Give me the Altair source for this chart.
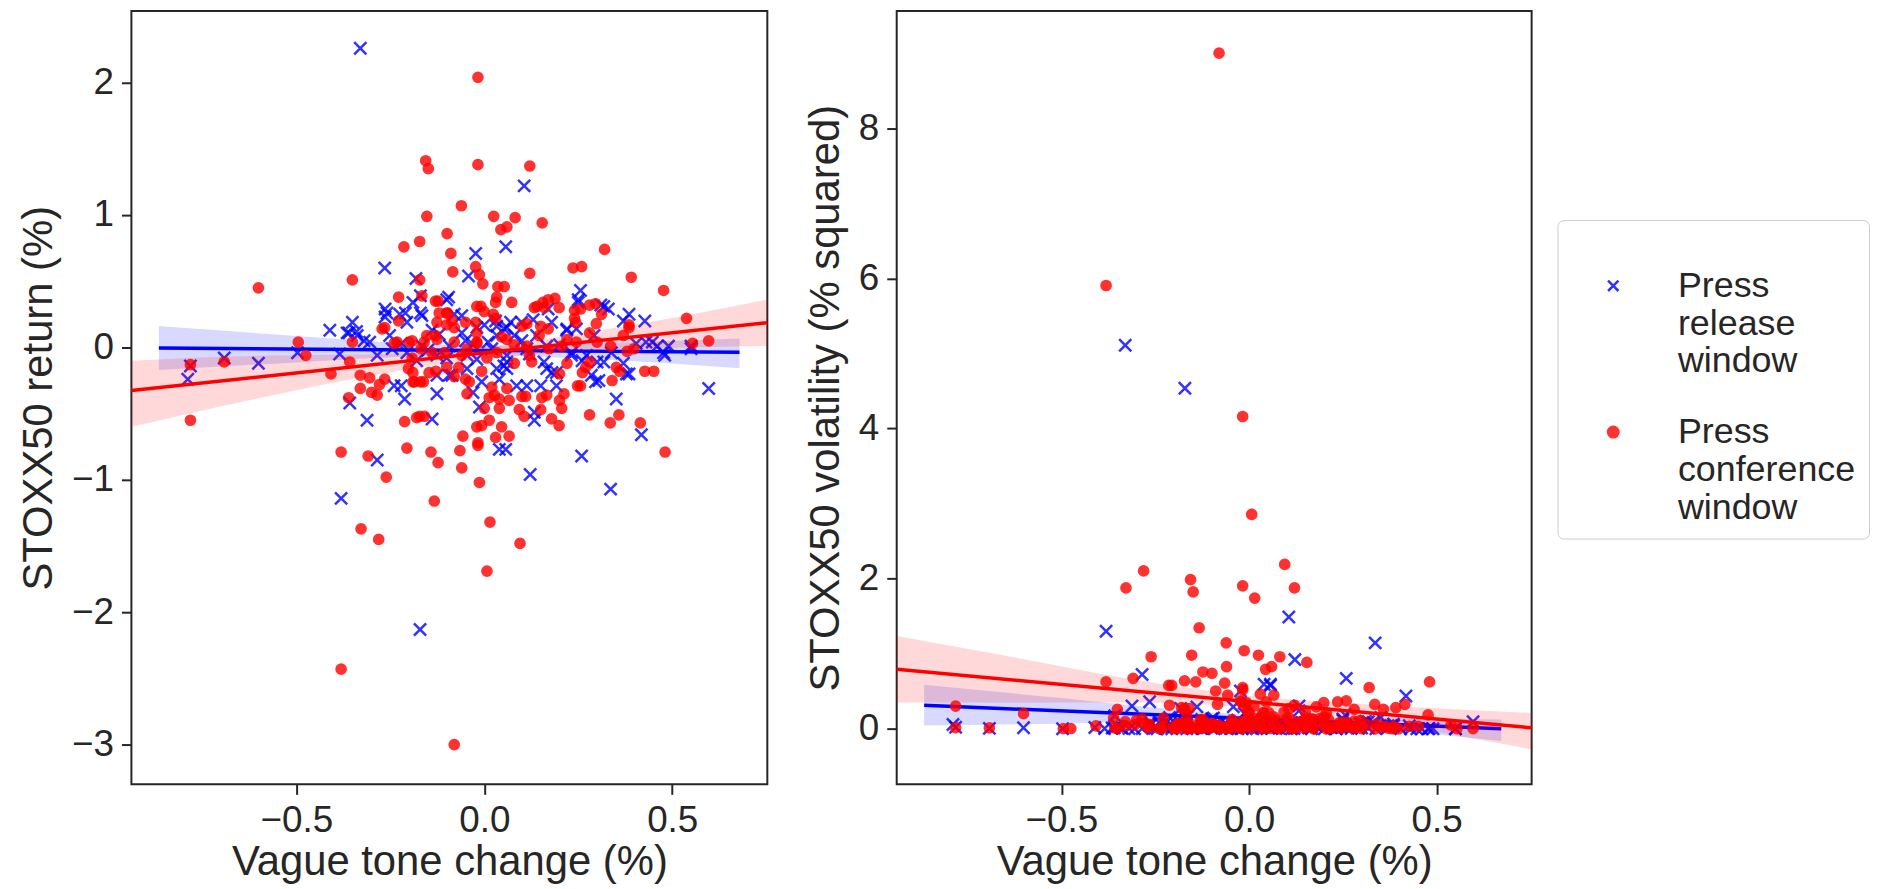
import altair as alt
import pandas as pd

SERIES = ["Press release window", "Press conference window"]
COLORS = ["#0000ff", "#ff0000"]
SHAPES = ["M-1,-1L1,1M1,-1L-1,1", "circle"]

X_TITLE = "Vague tone change (%)"
RET_TITLE = "STOXX50 return (%)"
VOL_TITLE = "STOXX50 volatility (% squared)"
X_DOMAIN = [-0.939, 0.753]
RET_DOMAIN = [-3.30, 2.54]
VOL_DOMAIN = [-0.74, 9.56]
X_TICKS = [-0.5, 0.0, 0.5]
RET_TICKS = [-3, -2, -1, 0, 1, 2]
VOL_TICKS = [0, 2, 4, 6, 8]

# Press release window
REL_X = [-0.33, 0.106, 0.057, -0.023, -0.265, -0.182, -0.042, 0.256, -0.095, -0.259,
         -0.351, -0.411, 0.318, 0.385, 0.427, 0.447, 0.48, 0.55, 0.597, 0.418,
         0.351, 0.385, 0.305, -0.789, -0.782, -0.692, -0.601, -0.497, -0.385, -0.312,
         -0.358, -0.221, -0.212, -0.126, -0.139, -0.013, 0.133, 0.133, 0.086, 0.113,
         0.159, 0.166, 0.192, 0.232, -0.086, -0.046, 0.033, 0.06, -0.285, 0.04,
         0.057, 0.259, 0.122, 0.336, -0.381, -0.171, -0.206, -0.166, -0.139, -0.06,
         -0.02, 0.033, 0.06, 0.08, 0.099, 0.139, 0.179, 0.219, 0.245, 0.292,
         0.338, 0.404, 0.477, 0.55, 0.272, 0.232, 0.166, 0.113, 0.06, 0.02,
         -0.02, -0.046, -0.093, -0.126, -0.166, -0.206, -0.245, -0.285, -0.305, -0.338,
         -0.365, -0.126, -0.007, 0.04, 0.06, 0.192, 0.285, 0.318, -0.252, -0.225,
         0.033, 0.15, 0.296, 0.378, -0.03, -0.24, 0.37, 0.30, 0.18, 0.052,
         -0.094, 0.25, -0.10, -0.36, -0.34, -0.32, -0.264, -0.264, -0.21, -0.17,
         -0.19, -0.17, -0.08, 0.053, 0.33, 0.37, 0.31, 0.25, 0.22, 0.43,
         0.46, 0.49, 0.0, 0.03, 0.07, 0.13, 0.17, -0.12, -0.05, 0.01,
         -0.22, -0.15, -0.10, -0.03, 0.10, 0.20, 0.26, -0.18, 0.12, -0.06]
REL_RET = [2.26, 1.22, 0.76, 0.71, 0.60, 0.52, 0.54, 0.43, 0.38, 0.26,
           0.19, 0.13, 0.31, 0.25, 0.20, 0.04, -0.06, -0.01, -0.31, -0.66,
           -0.39, -0.20, -0.25, -0.24, -0.14, -0.08, -0.12, -0.04, -0.05, -0.55,
           -0.42, -0.29, -0.39, -0.35, -0.54, -0.45, -0.49, -0.55, -0.29, -0.29,
           -0.11, -0.16, -0.29, -0.06, -0.21, -0.16, -0.16, -0.11, -0.85, -0.77,
           -0.77, -0.82, -0.96, -1.07, -1.14, -2.13, 0.19, 0.24, 0.13, 0.24,
           0.15, 0.16, 0.15, 0.09, 0.19, 0.09, 0.19, 0.13, 0.14, 0.09,
           -0.04, 0.03, -0.04, 0.01, -0.06, -0.04, 0.01, -0.01, -0.06, -0.01,
           -0.09, -0.06, 0.01, -0.06, 0.01, -0.04, -0.01, -0.06, 0.04, 0.09,
           0.11, -0.21, -0.26, -0.24, -0.16, -0.19, -0.21, -0.11, 0.09, 0.25,
           0.09, -0.29, -0.26, -0.20, -0.34, -0.29, -0.12, -0.11, -0.19, -0.14,
           -0.21, 0.36, 0.36, 0.11, 0.12, 0.05, 0.29, 0.23, 0.26, 0.26,
           0.34, 0.39, 0.25, 0.14, 0.29, 0.20, 0.32, 0.34, 0.14, 0.04,
           0.01, 0.01, 0.17, 0.20, 0.19, 0.21, 0.29, 0.10, 0.05, 0.04,
           0.03, -0.02, -0.08, 0.02, 0.05, 0.02, -0.10, -0.10, -0.05, 0.11]
REL_VOL = [5.11, 1.49, 0.578, 0.504, 0.36, 0.27, 0.292, 0.185, 0.144, 0.068,
           0.036, 0.017, 0.096, 0.063, 0.04, 0.002, 0.004, 0.0, 0.096, 0.436,
           0.152, 0.04, 0.063, 0.058, 0.02, 0.006, 0.014, 0.002, 0.003, 0.303,
           0.176, 0.084, 0.152, 0.123, 0.292, 0.203, 0.24, 0.303, 0.084, 0.084,
           0.012, 0.026, 0.084, 0.004, 0.044, 0.026, 0.026, 0.012, 0.723, 0.593,
           0.593, 0.672, 0.922, 1.145, 1.30, 4.537, 0.036, 0.058, 0.017, 0.058,
           0.023, 0.026, 0.023, 0.008, 0.036, 0.008, 0.036, 0.017, 0.02, 0.008,
           0.002, 0.001, 0.002, 0.0, 0.004, 0.002, 0.0, 0.0, 0.004, 0.0,
           0.008, 0.004, 0.0, 0.004, 0.0, 0.002, 0.0, 0.004, 0.002, 0.008,
           0.012, 0.044, 0.068, 0.058, 0.026, 0.036, 0.044, 0.012, 0.008, 0.063,
           0.008, 0.084, 0.068, 0.04, 0.116, 0.084, 0.014, 0.012, 0.036, 0.02,
           0.044, 0.13, 0.13, 0.012, 0.014, 0.003, 0.084, 0.053, 0.068, 0.068,
           0.116, 0.152, 0.063, 0.02, 0.084, 0.04, 0.102, 0.116, 0.02, 0.002,
           0.0, 0.0, 0.029, 0.04, 0.036, 0.044, 0.084, 0.01, 0.003, 0.002,
           0.001, 0.0, 0.006, 0.0, 0.003, 0.0, 0.01, 0.01, 0.003, 0.012]

# Press conference window
CONF_X = [-0.017, -0.156, -0.149, -0.017, 0.121, -0.061, -0.153, 0.025, 0.082, 0.154,
          0.044, 0.06, -0.099, -0.172, -0.214, -0.089, 0.32, -0.023, 0.236, 0.259,
          -0.084, 0.121, 0.391, -0.351, -0.172, -0.013, -0.004, -0.601, 0.053, 0.477,
          -0.166, -0.228, -0.123, 0.033, 0.073, 0.188, 0.156, 0.296, -0.009, 0.133,
          0.199, 0.256, 0.024, -0.099, 0.312, 0.538, -0.228, -0.023, 0.113, 0.243,
          0.385, -0.265, 0.298, 0.597, 0.554, -0.495, -0.351, -0.192, -0.475, -0.782,
          -0.692, -0.782, -0.408, -0.358, -0.305, -0.33, -0.279, -0.285, -0.361, -0.265,
          -0.202, -0.186, -0.162, -0.129, -0.068, -0.05, -0.046, -0.007, 0.013, 0.027,
          0.06, 0.066, 0.08, 0.126, 0.153, 0.166, 0.212, 0.248, 0.261, 0.281,
          0.351, 0.34, 0.358, 0.427, 0.451, 0.415, 0.179, 0.199, 0.206, 0.106,
          0.093, 0.046, 0.066, -0.007, 0.013, -0.057, -0.017, -0.212, -0.172, -0.159,
          0.256, 0.398, 0.336, 0.385, 0.245, 0.172, 0.146, 0.206, 0.113, 0.046,
          0.033, 0.007, -0.02, -0.046, -0.08, -0.106, -0.126, -0.139, -0.153, -0.168,
          -0.232, -0.192, -0.08, -0.126, -0.086, -0.381, -0.309, -0.206, -0.142, -0.065,
          -0.017, -0.123, -0.06, -0.261, -0.013, -0.133, 0.015, -0.328, -0.281, 0.095,
          0.007, -0.381, -0.08, 0.481, -0.33, -0.30, -0.19, -0.17, -0.18, -0.02,
          0.0, 0.03, 0.04, 0.10, 0.11, 0.15, 0.20, 0.20, 0.22, 0.28,
          0.335, 0.36, 0.27, 0.38, 0.02, 0.04, -0.08, -0.04, -0.10, -0.147,
          -0.19, -0.272, -0.13, -0.12, -0.10, -0.10, 0.036, 0.03, -0.02, 0.0,
          0.14, 0.17, 0.16, 0.28, 0.24, 0.24, 0.37, 0.28, 0.15, 0.17,
          0.10, 0.03, -0.05, -0.02, -0.02, -0.13, -0.16, -0.20, -0.24, 0.08,
          0.12, 0.06, -0.06, 0.22, 0.30]
CONF_RET = [2.04, 1.41, 1.35, 1.38, 1.37, 1.07, 0.99, 0.99, 0.98, 0.94,
            0.89, 0.91, 0.86, 0.80, 0.76, 0.71, 0.74, 0.61, 0.60, 0.61,
            0.57, 0.56, 0.53, 0.51, 0.51, 0.55, 0.48, 0.45, 0.46, 0.43,
            0.39, 0.38, 0.35, 0.38, 0.34, 0.37, 0.34, 0.33, 0.31, 0.30,
            0.30, 0.29, 0.25, 0.26, 0.25, 0.22, 0.20, 0.19, 0.18, 0.19,
            0.17, 0.15, 0.18, 0.05, 0.03, 0.04, 0.04, 0.05, -0.06, -0.13,
            -0.11, -0.55, -0.20, -0.11, -0.23, -0.31, -0.28, -0.36, -0.38, -0.24,
            -0.16, -0.26, -0.26, -0.18, -0.15, -0.24, -0.35, -0.18, -0.38, -0.36,
            -0.31, -0.40, -0.12, -0.11, -0.38, -0.36, -0.35, -0.29, -0.19, -0.11,
            -0.15, -0.25, -0.51, -0.18, -0.18, -0.57, -0.54, -0.59, -0.46, -0.52,
            -0.47, -0.60, -0.67, -0.59, -0.55, -0.67, -0.72, -0.56, -0.52, -0.52,
            -0.29, -0.01, 0.01, 0.15, 0.04, -0.01, 0.09, 0.01, 0.01, 0.08,
            -0.04, -0.08, 0.03, -0.01, 0.04, -0.04, 0.06, -0.04, 0.09, -0.01,
            0.04, -0.08, 0.15, 0.19, 0.20, -0.79, -0.82, -0.76, -0.79, -0.78,
            -0.74, -0.87, -0.91, -0.98, -1.02, -1.16, -1.32, -1.37, -1.45, -1.48,
            -1.69, -2.43, -3.00, -0.79, -0.21, -0.34, -0.26, -0.26, -0.53, -0.60,
            -0.46, -0.68, -0.46, -0.37, -0.37, -0.47, -0.40, -0.20, -0.12, -0.51,
            -0.57, -0.18, -0.15, -0.03, -0.30, -0.39, -0.22, -0.26, -0.15, -0.19,
            -0.19, 0.14, 0.35, 0.26, 0.26, 0.17, 0.46, 0.34, 0.31, 0.27,
            0.31, 0.36, 0.30, 0.32, 0.28, 0.22, 0.09, 0.11, 0.16, 0.14,
            0.16, 0.22, 0.19, 0.11, 0.04, 0.09, 0.04, 0.04, 0.03, 0.02,
            -0.06, 0.06, -0.06, 0.06, 0.04]
CONF_VOL = [4.16, 1.988, 1.823, 1.904, 1.877, 1.145, 0.98, 0.98, 0.96, 0.884,
            0.792, 0.828, 0.74, 0.64, 0.578, 0.504, 0.548, 0.372, 0.36, 0.372,
            0.325, 0.314, 0.281, 0.26, 0.26, 0.303, 0.23, 0.203, 0.212, 0.185,
            0.152, 0.144, 0.123, 0.144, 0.116, 0.137, 0.116, 0.109, 0.096, 0.09,
            0.09, 0.084, 0.063, 0.068, 0.063, 0.048, 0.04, 0.036, 0.032, 0.036,
            0.029, 0.023, 0.032, 0.003, 0.001, 0.002, 0.002, 0.003, 0.004, 0.017,
            0.012, 0.303, 0.04, 0.012, 0.053, 0.096, 0.078, 0.13, 0.144, 0.058,
            0.026, 0.068, 0.068, 0.032, 0.023, 0.058, 0.123, 0.032, 0.144, 0.13,
            0.096, 0.16, 0.014, 0.012, 0.144, 0.13, 0.123, 0.084, 0.036, 0.012,
            0.023, 0.063, 0.26, 0.032, 0.032, 0.325, 0.292, 0.348, 0.212, 0.27,
            0.221, 0.36, 0.449, 0.348, 0.303, 0.449, 0.518, 0.314, 0.27, 0.27,
            0.084, 0.0, 0.0, 0.023, 0.002, 0.0, 0.008, 0.0, 0.0, 0.006,
            0.002, 0.006, 0.001, 0.0, 0.002, 0.002, 0.004, 0.002, 0.008, 0.0,
            0.002, 0.006, 0.023, 0.036, 0.04, 0.624, 0.672, 0.578, 0.624, 0.608,
            0.548, 0.757, 0.828, 0.96, 1.04, 1.346, 1.742, 1.877, 2.103, 2.19,
            2.856, 5.905, 9.0, 0.624, 0.044, 0.116, 0.068, 0.068, 0.281, 0.36,
            0.212, 0.462, 0.212, 0.137, 0.137, 0.221, 0.16, 0.04, 0.014, 0.26,
            0.325, 0.032, 0.023, 0.001, 0.09, 0.152, 0.048, 0.068, 0.023, 0.036,
            0.036, 0.02, 0.123, 0.068, 0.068, 0.029, 0.212, 0.116, 0.096, 0.073,
            0.096, 0.13, 0.09, 0.102, 0.078, 0.048, 0.008, 0.012, 0.026, 0.02,
            0.026, 0.048, 0.036, 0.012, 0.002, 0.008, 0.002, 0.002, 0.001, 0.0,
            0.004, 0.004, 0.004, 0.004, 0.002]

# Regression lines and confidence bands
RET_REL_LINE_X = [-0.866, 0.679]
RET_REL_LINE_Y = [-0.005, -0.037]
RET_CONF_LINE_X = [-0.939, 0.753]
RET_CONF_LINE_Y = [-0.325, 0.187]
VOL_REL_LINE_X = [-0.866, 0.672]
VOL_REL_LINE_Y = [0.313, 0.0]
VOL_CONF_LINE_X = [-0.939, 0.753]
VOL_CONF_LINE_Y = [0.794, 0.013]

RET_REL_BAND_X = [-0.866, -0.5, -0.2, 0.0, 0.3, 0.679]
RET_REL_BAND_LO = [-0.17, -0.113, -0.069, -0.058, -0.089, -0.157]
RET_REL_BAND_HI = [0.162, 0.087, 0.031, 0.012, 0.031, 0.067]
RET_CONF_BAND_X = [-0.939, -0.6, -0.3, 0.0, 0.3, 0.753]
RET_CONF_BAND_LO = [-0.60, -0.383, -0.212, -0.086, -0.025, 0.012]
RET_CONF_BAND_HI = [-0.10, -0.063, -0.052, 0.004, 0.125, 0.362]
VOL_REL_BAND_X = [-0.866, -0.5, -0.2, 0.0, 0.3, 0.672]
VOL_REL_BAND_LO = [0.044, 0.069, 0.098, 0.087, 0.006, -0.163]
VOL_REL_BAND_HI = [0.586, 0.409, 0.258, 0.187, 0.146, 0.123]
VOL_CONF_BAND_X = [-0.939, -0.6, -0.3, 0.0, 0.3, 0.753]
VOL_CONF_BAND_LO = [0.35, 0.348, 0.349, 0.281, 0.112, -0.273]
VOL_CONF_BAND_HI = [1.235, 0.928, 0.649, 0.441, 0.332, 0.212]

FONT = "Liberation Sans"
INK = "#262626"
HEIGHT = 777

rel_df = pd.DataFrame({"x": REL_X, "ret": REL_RET, "vol": REL_VOL, "series": SERIES[0]})
conf_df = pd.DataFrame({"x": CONF_X, "ret": CONF_RET, "vol": CONF_VOL, "series": SERIES[1]})


def line_df(xs, ys):
    return pd.DataFrame({"x": xs, "y": ys})


def band_df(xs, lo, hi):
    return pd.DataFrame({"x": xs, "lo": lo, "hi": hi})


legend = alt.Legend(
    title=None, orient="none", legendX=1433, legendY=210,
    labelExpr="split(datum.label, ' ')",
    labelFont=FONT, labelFontSize=36, labelColor=INK, labelLimit=400,
    labelOffset=47, symbolOffset=25, symbolSize=110, symbolStrokeWidth=2.5,
    symbolOpacity=0.8, padding=13, rowPadding=0, clipHeight=106,
    strokeColor="#cccccc", fillColor="white", cornerRadius=6,
)
fill_scale = alt.Scale(domain=SERIES, range=COLORS)
stroke_scale = alt.Scale(domain=SERIES, range=COLORS)
shape_scale = alt.Scale(domain=SERIES, range=SHAPES)


def panel(ycol, ydomain, yticks, ytitle, lines, bands, width):
    xenc = alt.X("x:Q", scale=alt.Scale(domain=X_DOMAIN, nice=False, zero=False),
                 axis=alt.Axis(values=X_TICKS, format=".1f"), title=X_TITLE)
    yscale = alt.Scale(domain=ydomain, nice=False, zero=False)
    yaxis = alt.Axis(values=yticks, format="d")
    layers = []
    for i, df in enumerate([rel_df, conf_df]):
        if i == 0:
            mark = alt.Chart(df).mark_point(filled=False, size=150, strokeWidth=2.5, opacity=0.8)
        else:
            mark = alt.Chart(df).mark_point(filled=True, size=95, strokeWidth=2, opacity=0.8)
        pts = mark.encode(
            x=xenc,
            y=alt.Y(f"{ycol}:Q", scale=yscale, axis=yaxis, title=ytitle),
            fill=alt.Fill("series:N", scale=fill_scale, legend=legend),
            stroke=alt.Stroke("series:N", scale=stroke_scale, legend=legend),
            shape=alt.Shape("series:N", scale=shape_scale, legend=legend),
        )
        bnd = alt.Chart(bands[i]).mark_area(color=COLORS[i], opacity=0.15, interpolate="monotone").encode(
            x=xenc,
            y=alt.Y("lo:Q", scale=yscale, axis=yaxis, title=ytitle),
            y2="hi:Q",
        )
        ln = alt.Chart(lines[i]).mark_line(color=COLORS[i], strokeWidth=3.5).encode(
            x=xenc,
            y=alt.Y("y:Q", scale=yscale, axis=yaxis, title=ytitle),
        )
        layers += [pts, bnd, ln]
    return alt.layer(*layers).properties(width=width, height=HEIGHT)


left = panel(
    "ret", RET_DOMAIN, RET_TICKS, RET_TITLE,
    [line_df(RET_REL_LINE_X, RET_REL_LINE_Y), line_df(RET_CONF_LINE_X, RET_CONF_LINE_Y)],
    [band_df(RET_REL_BAND_X, RET_REL_BAND_LO, RET_REL_BAND_HI),
     band_df(RET_CONF_BAND_X, RET_CONF_BAND_LO, RET_CONF_BAND_HI)],
    639,
)
right = panel(
    "vol", VOL_DOMAIN, VOL_TICKS, VOL_TITLE,
    [line_df(VOL_REL_LINE_X, VOL_REL_LINE_Y), line_df(VOL_CONF_LINE_X, VOL_CONF_LINE_Y)],
    [band_df(VOL_REL_BAND_X, VOL_REL_BAND_LO, VOL_REL_BAND_HI),
     band_df(VOL_CONF_BAND_X, VOL_CONF_BAND_LO, VOL_CONF_BAND_HI)],
    638,
)

chart = (
    alt.hconcat(left, right, spacing=28)
    .properties(padding={"left": 8, "top": 0, "right": 0, "bottom": 0}, background="white")
    .configure(style={"guide-label": {"lineHeight": 38}})
    .configure_view(stroke=INK, strokeWidth=2)
    .configure_axis(
        grid=False, domain=False,
        labelFont=FONT, labelFontSize=37, labelColor=INK, labelPadding=8,
        titleFont=FONT, titleFontSize=42, titleColor=INK, titleFontWeight="normal",
        tickColor=INK, tickWidth=2, tickSize=10,
    )
    .configure_axisX(titlePadding=4)
    .configure_axisY(titlePadding=11)
)

chart.save("out.html", embed_options={"renderer": "svg", "actions": False})
